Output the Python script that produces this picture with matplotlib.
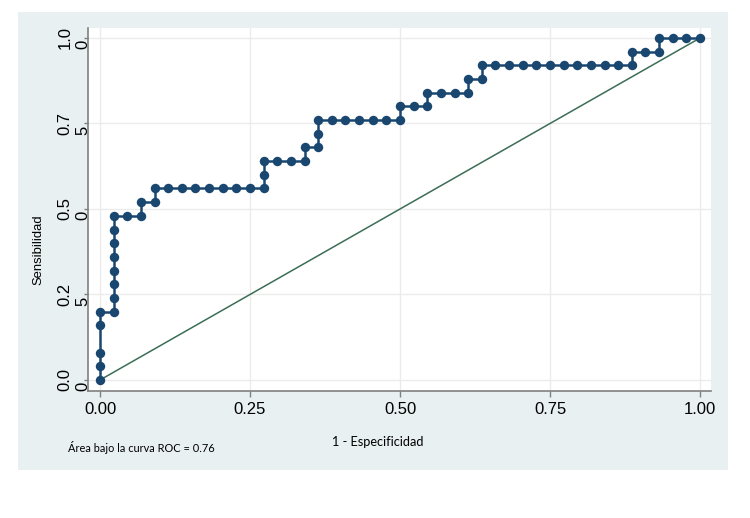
import matplotlib
matplotlib.use("Agg")
import matplotlib.pyplot as plt
from matplotlib.patches import Rectangle
import numpy as np

# ROC points, as counts (false positives / true positives)
n_neg = 44
n_pos = 25
fp_counts = [0, 0, 0, 0, 0,
             1, 1, 1, 1, 1, 1, 1, 1,
             2, 3, 3, 4, 4,
             5, 6, 7, 8, 9, 10, 11, 12,
             12, 12, 13, 14, 15, 15, 16, 16, 16,
             17, 18, 19, 20, 21, 22, 22, 23, 24, 24,
             25, 26, 27, 27, 28, 28,
             29, 30, 31, 32, 33, 34, 35, 36, 37, 38, 39,
             39, 40, 41, 41, 42, 43, 44]
tp_counts = [0, 1, 2, 4, 5,
             5, 6, 7, 8, 9, 10, 11, 12,
             12, 12, 13, 13, 14,
             14, 14, 14, 14, 14, 14, 14, 14,
             15, 16, 16, 16, 16, 17, 17, 18, 19,
             19, 19, 19, 19, 19, 19, 20, 20, 20, 21,
             21, 21, 21, 22, 22, 23,
             23, 23, 23, 23, 23, 23, 23, 23, 23, 23, 23,
             24, 24, 24, 25, 25, 25, 25]
auc_text = "Área bajo la curva ROC = 0.76"

ticks = [0, 0.25, 0.5, 0.75, 1.0]
xtick_labels = ["0.00", "0.25", "0.50", "0.75", "1.00"]
ytick_labels = ["0.0\n0", "0.2\n5", "0.5\n0", "0.7\n5", "1.0\n0"]

navy = "#1A476F"
green = "#3B6E55"
region = "#E9F0F2"

fpr = np.array(fp_counts) / n_neg
tpr = np.array(tp_counts) / n_pos

fig = plt.figure(figsize=(7.5, 5.18), dpi=100, facecolor="white")
fig.patches.append(Rectangle((18 / 750, 1 - 470 / 518), 710 / 750, 458 / 518,
                             transform=fig.transFigure, facecolor=region,
                             edgecolor="none", zorder=-10))

ax = fig.add_axes([88 / 750, 1 - 391 / 518, 623 / 750, 363 / 518])
ax.set_facecolor("white")
ax.set_xlim(-0.02, 1.0183)
ax.set_ylim(-0.0322, 1.0292)

ax.plot([0, 1], [0, 1], color=green, lw=1.1, zorder=2)
ax.plot(fpr, tpr, color=navy, lw=1.8, marker="o", ms=6.8,
        markeredgewidth=0, zorder=3)

ax.set_xticks(ticks)
ax.set_xticklabels(xtick_labels, fontsize=12, family="Liberation Sans")
ax.set_yticks(ticks)
ax.set_yticklabels(ytick_labels, fontsize=12, family="Liberation Sans",
                   rotation=90, va="center", ha="right",
                   multialignment="left", linespacing=1.25)
ax.grid(True, color="#EBEBEB", lw=1)
ax.set_axisbelow(True)

for s in ["top", "right"]:
    ax.spines[s].set_visible(False)
for s in ["left", "bottom"]:
    ax.spines[s].set_color("#808080")
    ax.spines[s].set_linewidth(1.2)
ax.tick_params(axis="x", length=4, width=1, color="#808080", pad=4)
ax.tick_params(axis="y", length=3, width=1, color="#808080", pad=-5)

fig.text(38 / 750, 1 - 250 / 518, "Sensibilidad", rotation=90,
         ha="center", va="center", fontsize=9.4, family="Liberation Sans")
fig.text(378 / 750, 1 - 442 / 518, "1 - Especificidad",
         ha="center", va="center", fontsize=9.2, family="Lato")
fig.text(68 / 750, 1 - 447 / 518, auc_text,
         ha="left", va="center", fontsize=7.9, family="Lato")

fig.savefig("out.png", dpi=100, facecolor="white")
